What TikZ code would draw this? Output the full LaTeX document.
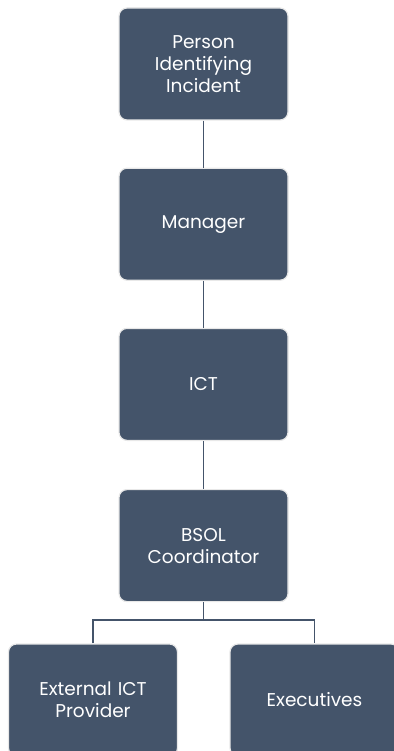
\documentclass[tikz,border=0pt]{standalone}
\usepackage{fontspec}
\setmainfont{Poppins}
\usetikzlibrary{positioning}
\definecolor{slate}{RGB}{68,84,106}
\definecolor{rim}{RGB}{232,232,232}

\begin{document}
\begin{tikzpicture}[x=1pt,y=-1pt, font=\fontsize{18.5}{22}\selectfont,
  role/.style={rectangle, rounded corners=8pt, fill=slate, draw=rim, line width=1.2pt,
    text=white, minimum width=169pt, minimum height=112pt, align=center, text width=160pt},
  link/.style={draw=slate, line width=1.3pt}]
  \useasboundingbox (0,0) rectangle (393,751);
  % escalation chain
  \node[role] (person) at (203.5,64) {Person\\Identifying\\Incident};
  \node[role, below=47pt of person] (manager) {Manager};
  \node[role, below=47pt of manager] (ict) {ICT};
  \node[role, below=48pt of ict] (bsol) {BSOL\\Coordinator};
  % second level
  \node[role] (external) at (93,700) {External ICT\\Provider};
  \node[role] (execs) at (314.5,700) {Executives};
  \coordinate (fork) at (203.5,620);
  \draw[link] (person) -- (manager);
  \draw[link] (manager) -- (ict);
  \draw[link] (ict) -- (bsol);
  \draw[link] (bsol.south) -- (fork);
  \draw[link] (external.north) |- (fork) -| (execs.north);
\end{tikzpicture}
\end{document}
